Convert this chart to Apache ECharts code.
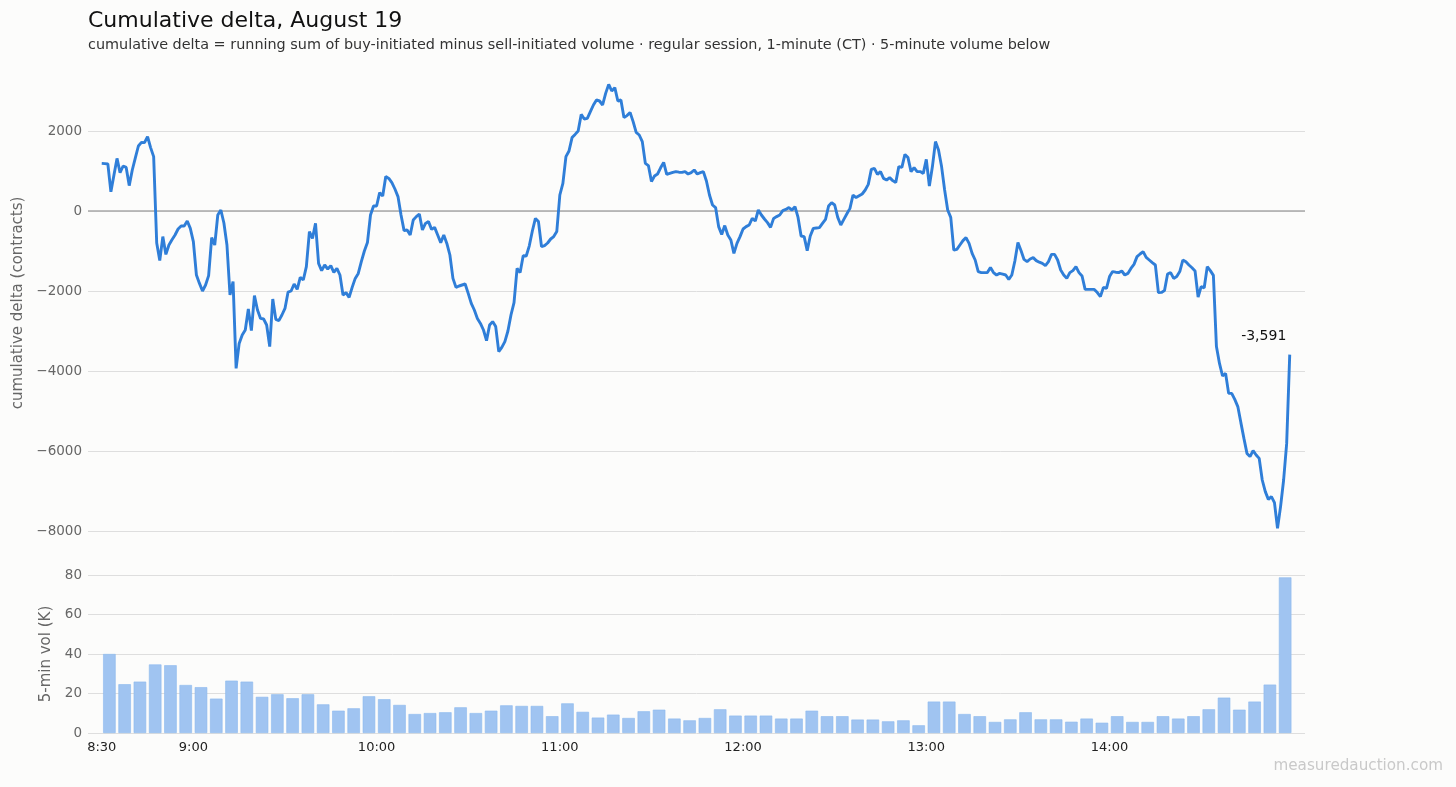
<!DOCTYPE html>
<html>
<head>
<meta charset="utf-8">
<title>Cumulative delta, August 19</title>
<script src="https://cdn.jsdelivr.net/npm/echarts@6/dist/echarts.min.js"></script>
<style>
  html, body { margin: 0; padding: 0; background: #fcfcfb; }
  #chart { width: 1456px; height: 787px; }
</style>
</head>
<body>
<div id="chart"></div>
<script>
// cumulative delta, one value per minute from 8:30 (index = minutes after 8:30)
var deltaValues = [
  1190, 1185, 1175, 480, 900, 1315, 960, 1125, 1090, 635,
  1025, 1330, 1625, 1715, 1710, 1860, 1585, 1360, -800, -1240,
  -640, -1085, -850, -720, -600, -450, -375, -375, -250, -435,
  -765, -1600, -1810, -2000, -1850, -1615, -665, -850, -100, 25,
  -300, -850, -2100, -1765, -3935, -3310, -3100, -2975, -2450, -2990,
  -2115, -2475, -2685, -2700, -2850, -3390, -2200, -2710, -2740, -2600,
  -2435, -2030, -2000, -1825, -1960, -1660, -1725, -1390, -515, -685,
  -310, -1310, -1490, -1350, -1450, -1365, -1535, -1435, -1600, -2100,
  -2040, -2160, -1910, -1685, -1560, -1265, -1000, -790, -100, 125,
  125, 460, 375, 860, 815, 710, 550, 360, -100, -490,
  -475, -600, -225, -140, -75, -475, -310, -265, -460, -410,
  -600, -790, -600, -810, -1100, -1685, -1910, -1875, -1850, -1825,
  -2060, -2310, -2475, -2685, -2810, -2975, -3240, -2850, -2765, -2890,
  -3515, -3410, -3265, -3000, -2600, -2290, -1435, -1540, -1120, -1125,
  -870, -500, -185, -265, -890, -865, -800, -700, -640, -515,
  400, 690, 1360, 1500, 1835, 1915, 2000, 2415, 2300, 2315,
  2485, 2650, 2775, 2750, 2650, 2940, 3165, 3000, 3085, 2750,
  2775, 2335, 2385, 2465, 2235, 1965, 1900, 1735, 1190, 1135,
  735, 875, 925, 1080, 1215, 915, 940, 965, 985, 970,
  965, 985, 925, 960, 1025, 925, 960, 985, 750, 400,
  150, 85, -390, -585, -365, -600, -725, -1060, -810, -640,
  -450, -390, -350, -185, -250, 25, -100, -200, -290, -410,
  -185, -140, -100, 10, 40, 85, 25, 110, -160, -625,
  -640, -990, -625, -435, -425, -415, -310, -210, 125, 210,
  150, -160, -350, -210, -70, 65, 400, 335, 380, 425,
  525, 665, 1040, 1065, 915, 985, 815, 775, 835, 760,
  710, 1110, 1090, 1415, 1335, 985, 1085, 985, 985, 940,
  1290, 625, 1110, 1735, 1525, 1110, 525, 25, -160, -975,
  -960, -850, -740, -665, -810, -1060, -1225, -1515, -1540, -1540,
  -1540, -1410, -1540, -1600, -1560, -1580, -1600, -1710, -1600, -1250,
  -790, -990, -1210, -1265, -1200, -1165, -1240, -1280, -1310, -1365,
  -1265, -1085, -1085, -1225, -1475, -1600, -1685, -1540, -1490, -1390,
  -1540, -1625, -1960, -1960, -1960, -1960, -2040, -2140, -1910, -1935,
  -1640, -1515, -1530, -1540, -1500, -1600, -1560, -1435, -1335, -1140,
  -1075, -1015, -1160, -1225, -1290, -1350, -2040, -2035, -1990, -1575,
  -1540, -1685, -1640, -1515, -1225, -1270, -1350, -1420, -1500, -2150,
  -1890, -1920, -1390, -1490, -1610, -3390, -3810, -4125, -4060, -4560,
  -4560, -4710, -4890, -5290, -5685, -6060, -6140, -5990, -6100, -6185,
  -6725, -7015, -7210, -7140, -7290, -7935, -7390, -6725, -5810, -3591
];

// 5-minute volume, thousands of contracts (bucket index = 5-minute block from 8:30)
var volumeValues = [
  40, 24.7, 26.0, 34.7, 34.3, 24.3, 23.2, 17.4, 26.5, 26.0,
  18.3, 19.6, 17.6, 19.6, 14.5, 11.3, 12.5, 18.6, 17.1, 14.2,
  9.6, 10.1, 10.5, 13.0, 10.1, 11.3, 14.0, 13.7, 13.7, 8.5,
  15.0, 10.7, 7.8, 9.3, 7.6, 11.0, 11.8, 7.3, 6.4, 7.6,
  12.0, 8.8, 8.8, 8.8, 7.3, 7.3, 11.3, 8.5, 8.5, 6.8,
  6.8, 5.9, 6.4, 3.9, 15.9, 15.9, 9.6, 8.5, 5.6, 6.9,
  10.5, 6.9, 6.9, 5.7, 7.3, 5.2, 8.5, 5.6, 5.6, 8.5,
  7.3, 8.5, 12.0, 17.9, 11.8, 15.9, 24.5, 78.8
];

// tick labels on the time axis (minutes after 8:30)
var timeTicks = [0, 30, 90, 150, 210, 270, 330];
var deltaTicks = [-8000, -6000, -4000, -2000, 0, 2000];

var FONT = 'DejaVu Sans';

function minuteLabel(m) {
  var t = 8 * 60 + 30 + m;
  var h = Math.floor(t / 60), mm = t % 60;
  return h + ':' + (mm < 10 ? '0' + mm : mm);
}

var lineData = deltaValues.map(function (v, i) { return [i, v]; });
var barData = volumeValues.map(function (v, i) { return [i * 5 + 2.5, v]; });
var lastIdx = deltaValues.length - 1;
var lastVal = deltaValues[lastIdx];

var chart = echarts.init(document.getElementById('chart'));

var option = {
  backgroundColor: '#fcfcfb',
  animation: false,
  textStyle: { fontFamily: FONT },
  title: {
    text: 'Cumulative delta, August 19',
    subtext: 'cumulative delta = running sum of buy-initiated minus sell-initiated volume · regular session, 1-minute (CT) · 5-minute volume below',
    left: 83,
    top: 5,
    itemGap: 6,
    textStyle: { fontFamily: FONT, fontSize: 22, fontWeight: 'normal', color: '#111' },
    subtextStyle: { fontFamily: FONT, fontSize: 14.4, color: '#333' }
  },
  grid: [
    { left: 88, width: 1217, top: 75, height: 456 },
    { left: 88, width: 1217, top: 575, height: 158 }
  ],
  xAxis: [
    {
      type: 'value', gridIndex: 0, min: -4.5, max: 394,
      axisLine: { show: false }, axisTick: { show: false },
      axisLabel: { show: false }, splitLine: { show: false }
    },
    {
      type: 'value', gridIndex: 1, min: -4.5, max: 394,
      axisLine: { show: false }, axisTick: { show: false },
      splitLine: { show: false },
      axisLabel: {
        customValues: timeTicks,
        formatter: function (v) { return minuteLabel(v); },
        color: '#222', fontSize: 13, fontFamily: FONT, margin: 8
      }
    }
  ],
  yAxis: [
    {
      type: 'value', gridIndex: 0, min: -8000, max: 3400, interval: 2000,
      name: 'cumulative delta (contracts)',
      nameLocation: 'middle', nameGap: 60,
      nameTextStyle: { color: '#666', fontSize: 15, fontFamily: FONT },
      axisLine: { show: false }, axisTick: { show: false },
      axisLabel: {
        color: '#666', fontSize: 13.5, fontFamily: FONT, margin: 6,
        formatter: function (v) {
          if (deltaTicks.indexOf(v) < 0) return '';
          return v < 0 ? '\u2212' + Math.abs(v) : String(v);
        }
      },
      splitLine: {
        lineStyle: {
          color: ['#dedede', '#dedede', '#dedede', '#dedede', '#dedede', '#dedede', 'rgba(0,0,0,0)'],
          width: 1
        }
      }
    },
    {
      type: 'value', gridIndex: 1, min: 0, max: 80, interval: 20,
      name: '5-min vol (K)',
      nameLocation: 'middle', nameGap: 32,
      nameTextStyle: { color: '#666', fontSize: 15, fontFamily: FONT },
      axisLine: { show: false }, axisTick: { show: false },
      axisLabel: { color: '#666', fontSize: 13.5, fontFamily: FONT, margin: 6 },
      splitLine: { lineStyle: { color: '#dedede', width: 1 } }
    }
  ],
  series: [
    {
      name: 'cumulative delta',
      type: 'line',
      xAxisIndex: 0, yAxisIndex: 0,
      data: lineData,
      showSymbol: false,
      symbol: 'none',
      lineStyle: { color: '#2f7ed8', width: 2.9 },
      z: 3,
      markLine: {
        silent: true,
        symbol: 'none',
        label: { show: false },
        lineStyle: { color: '#a8a8a8', width: 1.5, type: 'solid' },
        data: [{ yAxis: 0 }],
        z: 1
      },
      markPoint: {
        silent: true,
        symbol: 'circle',
        symbolSize: 0,
        data: [{ coord: [lastIdx, lastVal] }],
        label: {
          show: true,
          formatter: function () { return lastVal.toLocaleString('en-US'); },
          color: '#111', fontSize: 14, fontFamily: FONT,
          offset: [-26, -18]
        }
      }
    },
    {
      name: '5-min volume',
      type: 'bar',
      xAxisIndex: 1, yAxisIndex: 1,
      data: barData,
      barWidth: 12.5,
      itemStyle: { color: '#a0c4f1', borderColor: '#8cb8ee', borderWidth: 0.6 }
    }
  ],
  graphic: [
    {
      type: 'text',
      right: 13,
      top: 759,
      style: { text: 'measuredauction.com', fill: '#c9c9c9', fontSize: 15.2, fontFamily: FONT }
    }
  ]
};

chart.setOption(option);
</script>
</body>
</html>
